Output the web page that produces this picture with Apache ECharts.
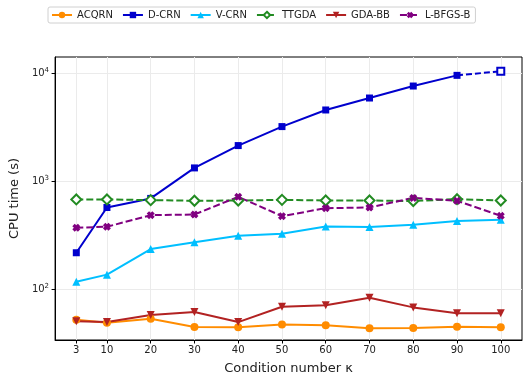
<!DOCTYPE html>
<html>
<head>
<meta charset="utf-8">
<script src="https://cdn.jsdelivr.net/npm/echarts@6/dist/echarts.min.js"></script>
<style>
  html, body { margin: 0; padding: 0; background: #fff; }
  #chart { width: 529px; height: 380px; }
</style>
</head>
<body>
<div id="chart"></div>
<script>
// condition numbers on the x axis
var kappa = [3, 10, 20, 30, 40, 50, 60, 70, 80, 90, 100]
var yTicks = [100, 1000, 10000]

// CPU time (s)
var acqrn = [52, 48.8, 53.1, 44.5, 44.2, 46.8, 46.2, 43.3, 43.6, 44.8, 44.2]
var dcrn = [217, 570, 692, 1327, 2138, 3206, 4570, 5900, 7620, 9570]
var dcrnLast = 10440 // hollow marker at kappa = 100, dashed segment
var vcrn = [117, 136, 235, 272, 312, 325, 380, 375, 394, 427, 438]
var ttgda = [677, 677, 667, 658, 662, 671, 662, 662, 655, 681, 662]
var gdabb = [50.2, 49.4, 57.4, 61.2, 49.4, 68.6, 70.6, 83.1, 67.6, 59.6, 59.6]
var lbfgsb = [370, 378, 484, 491, 716, 474, 562, 570, 700, 658, 477]

var legendNames = ['ACQRN', 'D-CRN', 'V-CRN', 'TTGDA', 'GDA-BB', 'L-BFGS-B']

function pairs(ys) {
  return ys.map(function (y, i) { return [kappa[i], y] })
}

// X-ish marker used for L-BFGS-B
var xMarker = 'path://M3,0 L5,2 L7,0 L10,3 L8,5 L10,7 L7,10 L5,8 L3,10 L0,7 L2,5 L0,3 Z'

var chart = echarts.init(document.getElementById('chart'))

var fontFam = 'DejaVu Sans'

var option = {
  backgroundColor: '#fff',
  animation: false,
  textStyle: { fontFamily: fontFam },
  legend: {
    data: legendNames,
    left: 48,
    top: 7,
    itemWidth: 20,
    itemHeight: 8,
    itemGap: 9,
    padding: [3, 5, 3, 3],
    borderColor: '#d0d0d0',
    borderWidth: 1,
    borderRadius: 2,
    textStyle: { fontSize: 10, color: '#222', fontFamily: fontFam }
  },
  grid: {
    left: 49,
    right: 7,
    top: 57,
    bottom: 40,
    containLabel: false,
    show: true,
    borderColor: '#000',
    borderWidth: 1
  },
  xAxis: {
    type: 'value',
    min: -1.85,
    max: 104.85,
    name: 'Condition number κ',
    nameLocation: 'middle',
    nameGap: 22,
    nameTextStyle: { fontSize: 13, color: '#222' },
    axisLine: { show: true, onZero: false, lineStyle: { color: '#000' } },
    axisTick: { show: true, length: 3.5, lineStyle: { color: '#000' }, customValues: kappa },
    axisLabel: { fontSize: 10, color: '#222', margin: 5, customValues: kappa },
    splitLine: { show: true, lineStyle: { color: '#ebebeb', width: 1 } }
  },
  yAxis: {
    type: 'log',
    logBase: 10,
    min: 33.7,
    max: 14160,
    name: 'CPU time (s)',
    nameLocation: 'middle',
    nameGap: 31,
    nameTextStyle: { fontSize: 13, color: '#222' },
    axisLine: { show: true, onZero: false, lineStyle: { color: '#000' } },
    axisTick: { show: true, length: 3.5, lineStyle: { color: '#000' }, customValues: yTicks },
    axisLabel: {
      fontSize: 10,
      color: '#222',
      margin: 6,
      customValues: yTicks,
      formatter: function (v) {
        var e = Math.round(Math.log10(v))
        return '{b|10}{s|' + e + '}'
      },
      rich: {
        b: { fontSize: 10, color: '#222', fontFamily: fontFam },
        s: { fontSize: 7, color: '#222', fontFamily: fontFam, verticalAlign: 'top', padding: [0, 0, 6, 0] }
      }
    },
    splitLine: { show: true, lineStyle: { color: '#ebebeb', width: 1 } }
  },
  series: [
    {
      name: 'ACQRN',
      type: 'line',
      data: pairs(acqrn),
      symbol: 'circle',
      symbolSize: 8,
      lineStyle: { width: 2, color: '#ff8c00' },
      itemStyle: { color: '#ff8c00' }
    },
    {
      name: 'D-CRN',
      type: 'line',
      data: pairs(dcrn),
      symbol: 'rect',
      symbolSize: 7,
      lineStyle: { width: 2, color: '#0000cd' },
      itemStyle: { color: '#0000cd' }
    },
    {
      name: 'D-CRN',
      type: 'line',
      data: [
        { value: [kappa[9], dcrn[9]], symbol: 'none' },
        { value: [kappa[10], dcrnLast] }
      ],
      symbol: 'emptyRect',
      symbolSize: 7,
      lineStyle: { width: 2, color: '#0000cd', type: [6, 3] },
      itemStyle: { color: '#0000cd', borderWidth: 1.5 }
    },
    {
      name: 'V-CRN',
      type: 'line',
      data: pairs(vcrn),
      symbol: 'triangle',
      symbolSize: 8,
      lineStyle: { width: 2, color: '#00bfff' },
      itemStyle: { color: '#00bfff' }
    },
    {
      name: 'TTGDA',
      type: 'line',
      data: pairs(ttgda),
      symbol: 'emptyDiamond',
      symbolSize: 10,
      lineStyle: { width: 2, color: '#228b22', type: [7, 3] },
      itemStyle: { color: '#228b22', borderWidth: 1.5 }
    },
    {
      name: 'GDA-BB',
      type: 'line',
      data: pairs(gdabb),
      symbol: 'triangle',
      symbolRotate: 180,
      symbolSize: 8,
      lineStyle: { width: 2, color: '#b22222' },
      itemStyle: { color: '#b22222' }
    },
    {
      name: 'L-BFGS-B',
      type: 'line',
      data: pairs(lbfgsb),
      symbol: xMarker,
      symbolSize: 8,
      lineStyle: { width: 2, color: '#800080', type: [7, 3] },
      itemStyle: { color: '#800080' }
    }
  ]
}

chart.setOption(option)
</script>
</body>
</html>
